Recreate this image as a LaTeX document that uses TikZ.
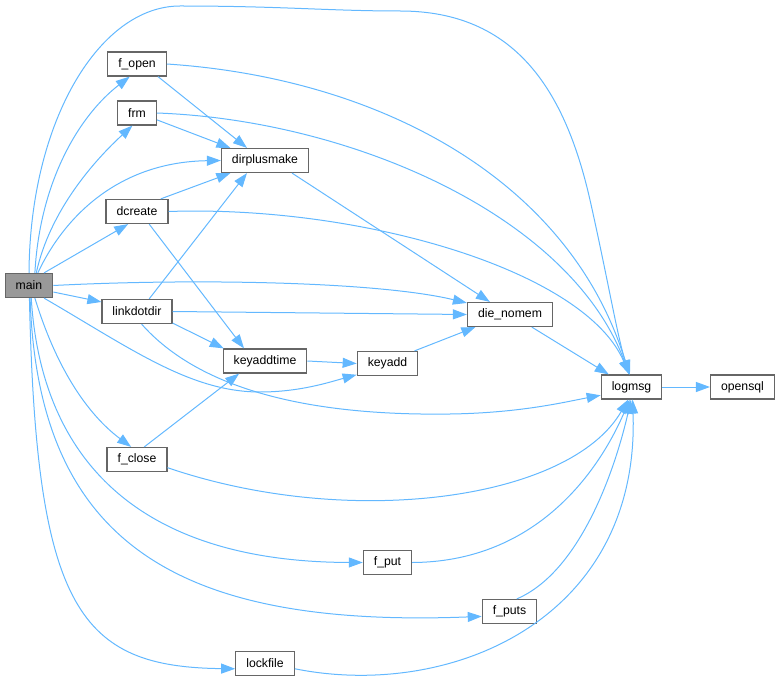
\documentclass[tikz,border=0pt]{standalone}
\usepackage{fontspec}
\setmainfont{Liberation Sans}
\usetikzlibrary{arrows.meta}
\definecolor{edgeblue}{RGB}{99,184,255}
\definecolor{boxgray}{RGB}{102,102,102}
\definecolor{rootgray}{RGB}{153,153,153}
\tikzset{
  fn/.style={draw=boxgray, line width=1.2pt, fill=white, minimum height=24pt,
    inner xsep=10.5pt, inner ysep=0pt, font=\fontsize{12.25}{14}\selectfont},
  root/.style={fn, fill=rootgray},
  call/.style={-{Triangle[length=14pt,width=10pt]}, draw=edgeblue, fill=none, line width=1pt}
}
\begin{document}
\begin{tikzpicture}[x=1pt,y=-1pt]
 \useasboundingbox (0,0) rectangle (781,687);
  \draw (29,285.5) node[root] (main) {main};
  \draw (137,64) node[fn] (f_open) {f\_open};
  \draw (137,113) node[fn] (frm) {frm};
  \draw (265,160.5) node[fn] (dirplusmake) {dirplusmake};
  \draw (137,211.5) node[fn] (dcreate) {dcreate};
  \draw (137,311.5) node[fn] (linkdotdir) {linkdotdir};
  \draw (510,314.5) node[fn] (die_nomem) {die\_nomem};
  \draw (265,361) node[fn] (keyaddtime) {keyaddtime};
  \draw (387.5,363.5) node[fn] (keyadd) {keyadd};
  \draw (631.5,387) node[fn] (logmsg) {logmsg};
  \draw (742.5,387) node[fn] (opensql) {opensql};
  \draw (137,459.5) node[fn] (f_close) {f\_close};
  \draw (387.5,562.5) node[fn] (f_put) {f\_put};
  \draw (509.5,611.5) node[fn] (f_puts) {f\_puts};
  \draw (265,663.5) node[fn] (lockfile) {lockfile};

     \draw[call] (main.north) .. controls (30,120) and (100,6) .. (180,6)
        .. controls (280,6) and (330,11) .. (400,11)
        .. controls (515,11) and (565,90) .. (590,200)
        .. controls (608,280) and (618,340) .. (logmsg.97);
     \draw[call] (main.65) .. controls (40,180) and (80,115) .. (f_open.240);
     \draw[call] (main.60) .. controls (50,210) and (95,160) .. (frm.250);
     \draw[call] (main.55) .. controls (65,215) and (120,162) .. (dirplusmake.west);
     \draw[call] (main.40) -- (dcreate.235);
     \draw[call] (main.east) .. controls (200,278) and (380,282) .. (die_nomem.165);
     \draw[call] (main.-15) -- (linkdotdir.165);
     \draw[call] (main.-40) .. controls (130,348) and (190,392) .. (260,392)
        .. controls (300,392) and (330,382) .. (keyadd.200);
     \draw[call] (main.-65) .. controls (60,380) and (95,420) .. (f_close.115);
     \draw[call] (main.-80) .. controls (42,470) and (150,562) .. (f_put.west);
     \draw[call] (main.-85) .. controls (38,545) and (180,628) .. (f_puts.190);
     \draw[call] (main.-88) .. controls (36,610) and (80,667) .. (lockfile.190);

     \draw[call] (f_open.-31) -- (dirplusmake.145);
     \draw[call] (f_open.east) .. controls (380,78) and (570,180) .. (logmsg.100);
     \draw[call] (frm.-19) -- (dirplusmake.160);
     \draw[call] (frm.east) .. controls (350,120) and (570,215) .. (logmsg.100);
     \draw[call] (dcreate.28) -- (dirplusmake.200);
     \draw[call] (dcreate.-46) -- (keyaddtime.149);
     \draw[call] (dcreate.east) .. controls (360,205) and (585,270) .. (logmsg.100);
     \draw[call] (dirplusmake.-25) -- (die_nomem.148);
     \draw[call] (linkdotdir.46) -- (dirplusmake.215);
     \draw[call] (linkdotdir.east) -- (die_nomem.west);
     \draw[call] (linkdotdir.-18) -- (keyaddtime.163);
     \draw[call] (linkdotdir.-70) .. controls (200,390) and (310,416) .. (450,414)
        .. controls (520,413) and (565,402) .. (logmsg.195);
     \draw[call] (keyaddtime.east) -- (keyadd.west);
     \draw[call] (keyadd.25) -- (die_nomem.200);
     \draw[call] (die_nomem.-30) -- (logmsg.151);
     \draw[call] (logmsg.east) -- (opensql.west);
     \draw[call] (f_close.60) -- (keyaddtime.206);
     \draw[call] (f_close.-15) .. controls (350,530) and (570,500) .. (logmsg.255);
     \draw[call] (f_put.east) .. controls (530,562) and (595,480) .. (logmsg.262);
     \draw[call] (f_puts.60) .. controls (580,572) and (615,470) .. (logmsg.268);
     \draw[call] (lockfile.-10) .. controls (450,700) and (640,620) .. (logmsg.275);
\end{tikzpicture}
\end{document}
